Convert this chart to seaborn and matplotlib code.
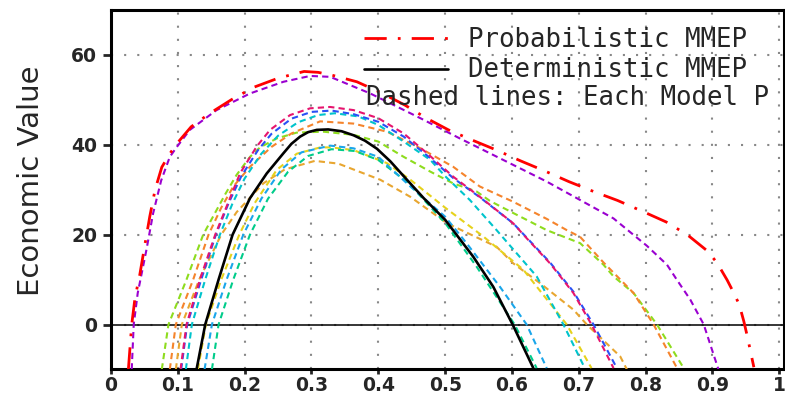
import matplotlib
matplotlib.use('Agg')
import matplotlib.pyplot as plt
import seaborn as sns

# -----------------------------
# Data (cost/loss ratio vs economic value)
# -----------------------------
prob_x = [0.026, 0.031, 0.036, 0.043, 0.051, 0.058, 0.066, 0.076, 0.088, 0.100, 0.120, 0.148,
          0.180, 0.214, 0.250, 0.289, 0.310, 0.330, 0.368, 0.405, 0.440, 0.472, 0.505, 0.541,
          0.577, 0.613, 0.650, 0.685, 0.722, 0.758, 0.795, 0.831, 0.863, 0.893, 0.907, 0.922,
          0.931, 0.940, 0.947, 0.952, 0.962]
prob_y = [-10, 0, 6, 11, 18, 24, 30, 35, 38, 40.5, 44, 47, 50, 52.8, 54.8, 56.3, 56.1, 55.5,
          54, 51.5, 48.8, 45.9, 43.3, 41, 38.8, 36.4, 34.1, 31.8, 29.6, 27.6, 25.2, 22.8, 19.9,
          16.3, 13.7, 9.9, 7.3, 4.5, 0.7, -2.5, -9.5]

det_x = [0.128, 0.141, 0.161, 0.182, 0.208, 0.233, 0.258, 0.270, 0.283, 0.295, 0.308, 0.325,
         0.345, 0.363, 0.380, 0.398, 0.418, 0.438, 0.468, 0.500, 0.542, 0.572, 0.601, 0.632]
det_y = [-10, 0, 10, 20, 28.1, 33.6, 38.1, 40.2, 41.8, 42.8, 43.3, 43.4, 43.0, 42.1, 40.9, 39.1,
         36.3, 33.0, 28.1, 23.3, 15.1, 8.4, 0, -9.7]

# each single model (dashed lines)
purple_x = [0.031, 0.034, 0.040, 0.053, 0.063, 0.075, 0.088, 0.100, 0.118, 0.158, 0.208, 0.258,
            0.298, 0.328, 0.388, 0.463, 0.522, 0.552, 0.602, 0.652, 0.702, 0.752, 0.779, 0.802,
            0.832, 0.847, 0.867, 0.887, 0.909]
purple_y = [-10, 0, 7, 16.6, 24.7, 32, 37.3, 39.8, 43.3, 47.7, 51.4, 54, 55.3, 55.1, 51.4, 45.9,
            41.4, 39.2, 35.5, 31.8, 27.7, 23.6, 20.3, 17.5, 13.3, 9.9, 5.5, 0, -10]

magenta_x = [0.104, 0.113, 0.133, 0.156, 0.175, 0.193, 0.218, 0.238, 0.268, 0.298, 0.328, 0.363,
             0.400, 0.438, 0.473, 0.512, 0.552, 0.602, 0.622, 0.657, 0.692, 0.719, 0.752]
magenta_y = [-10, 0, 10, 20, 27, 33.6, 39.6, 43.3, 46.6, 48.1, 48.4, 47.7, 45.9, 42.5, 38.1, 32.9,
             28.4, 22.5, 19.2, 13.6, 7, 0, -9.7]

blue_x = [0.105, 0.114, 0.135, 0.157, 0.176, 0.195, 0.220, 0.240, 0.270, 0.300, 0.330, 0.363,
          0.400, 0.438, 0.473, 0.512, 0.552, 0.602, 0.657, 0.692, 0.722, 0.757]
blue_y = [-10, 0, 10, 20, 27, 33, 38.8, 42.4, 45.8, 47.3, 47.6, 46.8, 45.1, 41.8, 37.6, 32.6,
          28.3, 22.5, 13.8, 7.3, 0, -9.7]

cyan_x = [0.112, 0.121, 0.141, 0.163, 0.182, 0.200, 0.225, 0.250, 0.280, 0.310, 0.335, 0.370,
          0.400, 0.438, 0.478, 0.500, 0.537, 0.577, 0.637, 0.677, 0.709]
cyan_y = [-10, 0, 10, 20, 27, 32.5, 38, 42, 45, 46.6, 47, 46.3, 44.4, 40.7, 36.6, 33, 27.7, 21,
          10.7, 0, -9.7]

orange_x = [0.088, 0.097, 0.123, 0.146, 0.165, 0.183, 0.208, 0.240, 0.270, 0.313, 0.363, 0.413,
            0.463, 0.512, 0.552, 0.602, 0.652, 0.682, 0.702, 0.737, 0.782, 0.812, 0.847]
orange_y = [-10, 0, 10, 20, 26, 30.7, 35.1, 39.5, 42.5, 45.2, 44.7, 42.9, 39.2, 35.1, 30.7, 27.3,
            23.5, 21, 19.5, 13.8, 7, 0, -9.7]

green_x = [0.076, 0.086, 0.113, 0.138, 0.171, 0.188, 0.208, 0.223, 0.248, 0.278, 0.318, 0.363,
           0.400, 0.438, 0.478, 0.512, 0.547, 0.567, 0.602, 0.652, 0.702, 0.737, 0.752, 0.782,
           0.817, 0.857]
green_y = [-10, 0, 10, 20, 29, 33.3, 37.3, 39.4, 41.4, 42.7, 42.9, 42.2, 40.7, 37.3, 34, 31.4,
           29.6, 27.5, 24.8, 21, 18.1, 13.3, 10.7, 7, 0, -9.7]

gold_x = [0.130, 0.142, 0.165, 0.192, 0.215, 0.248, 0.278, 0.313, 0.330, 0.363, 0.413, 0.448,
          0.500, 0.557, 0.617, 0.682, 0.719]
gold_y = [-10, 0, 10, 20, 27, 34.4, 38, 39.4, 39.4, 38.8, 35.9, 32.2, 26, 19.6, 12.2, 0, -9.7]

goldenrod_x = [0.097, 0.106, 0.132, 0.165, 0.188, 0.228, 0.260, 0.305, 0.340, 0.403, 0.448, 0.503,
               0.577, 0.602, 0.642, 0.692, 0.712, 0.762, 0.772]
goldenrod_y = [-10, 0, 10, 20, 25, 31.4, 34.5, 36.4, 35.8, 32.2, 28.4, 22.5, 17.3, 13.6, 9.2, 3.3,
               0, -7.1, -10]

dodger_x = [0.140, 0.151, 0.173, 0.198, 0.225, 0.255, 0.285, 0.328, 0.363, 0.400, 0.448, 0.500,
            0.532, 0.582, 0.622, 0.652]
dodger_y = [-10, 0, 10, 20, 28, 34.5, 38.3, 39.8, 39.2, 37.3, 30.7, 24, 18.1, 8.4, 0, -9.7]

teal_x = [0.151, 0.161, 0.183, 0.208, 0.235, 0.265, 0.295, 0.330, 0.365, 0.400, 0.445, 0.500,
          0.547, 0.582, 0.604, 0.637]
teal_y = [-10, 0, 10, 20, 28, 34, 37.5, 39, 38.6, 36.6, 31.5, 22.6, 12.9, 5, 0, -9.7]

models = [
    (goldenrod_x, goldenrod_y, '#e8a630'),
    (gold_x, gold_y, '#e6d21c'),
    (green_x, green_y, '#8edc1e'),
    (orange_x, orange_y, '#f5842c'),
    (teal_x, teal_y, '#00cc8a'),
    (dodger_x, dodger_y, '#1aa6ea'),
    (cyan_x, cyan_y, '#00c4cc'),
    (blue_x, blue_y, '#2a50f5'),
    (magenta_x, magenta_y, '#e6146e'),
    (purple_x, purple_y, '#9a00d0'),
]

x_ticks = [0, 0.1, 0.2, 0.3, 0.4, 0.5, 0.6, 0.7, 0.8, 0.9, 1]
x_tick_labels = ['0', '0.1', '0.2', '0.3', '0.4', '0.5', '0.6', '0.7', '0.8', '0.9', '1']
y_ticks = [0, 20, 40, 60]

# -----------------------------
# Plot
# -----------------------------
sns.set_style('white')
plt.rcParams['font.family'] = ['DejaVu Sans']

fig = plt.figure(figsize=(7.85, 3.98), dpi=100)
ax = fig.add_axes([0.1414, 0.0717, 0.8569, 0.9035])

for xs, ys, col in models:
    sns.lineplot(x=xs, y=ys, ax=ax, color=col, linewidth=1.5, sort=False,
                 estimator=None, linestyle=(0, (3, 2)), zorder=3)

sns.lineplot(x=det_x, y=det_y, ax=ax, color='black', linewidth=1.9, sort=False,
             estimator=None, label='Deterministic MMEP', zorder=4)
sns.lineplot(x=prob_x, y=prob_y, ax=ax, color='#ff0000', linewidth=2.0, sort=False,
             estimator=None, linestyle=(0, (8, 4, 1, 4)), label='Probabilistic MMEP', zorder=5)

ax.axhline(0, color='black', linewidth=1.1, zorder=2)

ax.set_xlim(0, 1.0066)
ax.set_ylim(-10, 70)
ax.set_xticks(x_ticks)
ax.set_xticklabels(x_tick_labels)
ax.set_yticks(y_ticks)

ax.grid(True, color='#888888', linestyle=(0, (1, 5.3)), linewidth=1.5, zorder=1)
ax.set_axisbelow(True)

for s in ax.spines.values():
    s.set_linewidth(2.2)
    s.set_color('black')

ax.tick_params(axis='both', direction='out', width=2, labelsize=13.5, left=True, bottom=True)
ax.tick_params(axis='x', length=3.5, pad=1.5)
ax.tick_params(axis='y', length=6, pad=4)
plt.setp(ax.get_xticklabels() + ax.get_yticklabels(), fontweight='bold')

ax.set_xlabel('')
ax.set_ylabel('Economic Value', fontsize=21)
ax.yaxis.set_label_coords(-0.098, 0.526)

# legend: two lines + a note about the dashed lines
mono = {'family': 'DejaVu Sans Mono', 'size': 18.5}
handles, labels = ax.get_legend_handles_labels()
order = [labels.index('Probabilistic MMEP'), labels.index('Deterministic MMEP')]
ax.legend([handles[i] for i in order], [labels[i] for i in order],
          loc='upper left', bbox_to_anchor=(0.3756, 0.952), frameon=False,
          borderpad=0, borderaxespad=0, handlelength=3.3, handletextpad=0.75,
          labelspacing=0.17, prop=mono)
ax.text(0.3786, 0.756, 'Dashed lines: Each Model P', transform=ax.transAxes,
        va='center', ha='left', fontdict=mono, clip_on=True, zorder=6)

fig.savefig('out.png', dpi=100)
